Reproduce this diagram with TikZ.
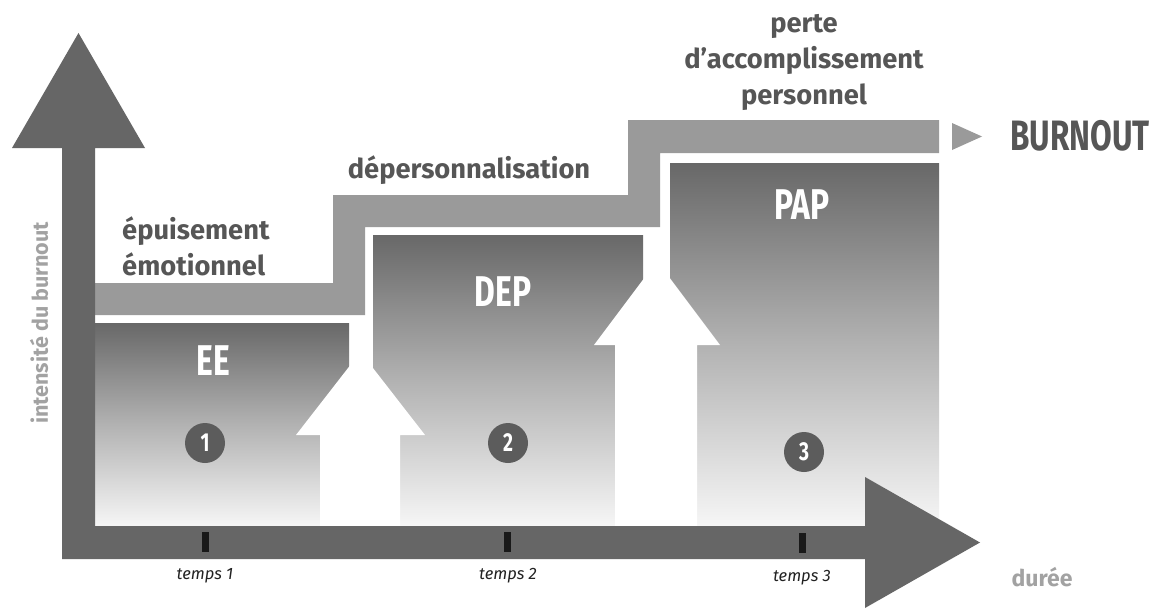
\documentclass[tikz,border=0pt]{standalone}
\usepackage{fontspec}
\setmainfont{Fira Sans}
\newfontfamily\cnd{Fira Sans}
\newfontfamily\ccnd{Fira Sans}[FakeStretch=0.74]
\definecolor{axisgray}{HTML}{666666}
\definecolor{bandgray}{HTML}{9A9A9A}
\definecolor{headgray}{HTML}{565656}
\definecolor{boxtop}{HTML}{686868}
\definecolor{boxmid}{HTML}{B2B2B2}
\definecolor{boxbot}{HTML}{F6F6F6}
\definecolor{discgray}{HTML}{5C5C5C}
\definecolor{lightlabel}{HTML}{A2A2A2}
\definecolor{timetext}{HTML}{222222}
\begin{document}
\begin{tikzpicture}[x=1pt,y=-1pt,
  heading/.style={inner sep=0, text=headgray, font=\cnd\bfseries\fontsize{27.3}{30}\selectfont},
  boxlabel/.style={inner sep=0, text=white, font=\ccnd\bfseries\fontsize{43}{48}\selectfont},
  stagebox/.style={top color=boxtop, bottom color=boxbot, middle color=boxmid},
  numdisc/.style={circle, fill=discgray, minimum size=40pt, inner sep=0, text=white, font=\ccnd\bfseries\fontsize{26}{28}\selectfont},
  tickmark/.style={fill=black!90},
  timelabel/.style={inner sep=0, text=timetext, font=\itshape\fontsize{16.5}{18}\selectfont},
  axislabel/.style={inner sep=0, text=lightlabel, font=\bfseries\fontsize{21.5}{24}\selectfont},
  whitearrow/.style={fill=white}
]
\useasboundingbox[fill=white] (0,0) rectangle (1160,610);

% stair band
\fill[bandgray] (95,283) -- (333,283) -- (333,195) -- (628,195) -- (628,120)
  -- (939,120) -- (939,153) -- (660,153) -- (660,227) -- (365,227)
  -- (365,315) -- (95,315) -- cycle;

% stage boxes
\path[stagebox] (95,323) rectangle (349,526);
\path[stagebox] (373,235) rectangle (643,526);
\path[stagebox] (670,163) rectangle (939,526);

% white arrows
\fill[whitearrow] (320,526) -- (320,435) -- (296,435) -- (360.5,352) -- (425,435)
  -- (400,435) -- (400,526) -- cycle;
\fill[whitearrow] (615,526) -- (615,345) -- (594,345) -- (657,261) -- (720,345)
  -- (697,345) -- (697,526) -- cycle;

% axes
\fill[axisgray] (62,559) -- (62,148) -- (12,148) -- (78.5,33) -- (145,148)
  -- (95,148) -- (95,526) -- (865,526) -- (865,477) -- (980,542.5)
  -- (865,608) -- (865,559) -- cycle;

% ticks
\fill[tickmark] (201.5,532) rectangle (208.5,552);
\fill[tickmark] (503.5,532) rectangle (510.5,552);
\fill[tickmark] (798.5,533) rectangle (805.5,553);

\node[timelabel] (t1) at (205,576) {temps 1};
\node[timelabel] (t2) at (508,576) {temps 2};
\node[timelabel] (t3) at (802,578) {temps 3};

\node[axislabel, font=\bfseries\fontsize{23}{26}\selectfont] (dur) at (1042,577) {durée};
\node[axislabel, rotate=90] (ylab) at (39,323) {intensité du burnout};

% headings
\node[heading, anchor=base west] (ep1) at (122,239) {épuisement};
\node[heading, anchor=base west] (ep2) at (122,275) {émotionnel};
\node[heading, anchor=base] (dep) at (469,178) {dépersonnalisation};
\node[heading, anchor=base] (pa1) at (804,33) {perte};
\node[heading, anchor=base] (pa2) at (804,69) {d’accomplissement};
\node[heading, anchor=base] (pa3) at (804,104) {personnel};

% box labels
\node[boxlabel, anchor=base] (ee) at (213,375) {EE};
\node[boxlabel, anchor=base] (dp) at (503,306) {DEP};
\node[boxlabel, anchor=base] (pap) at (802,219) {PAP};

% discs
\node[numdisc] (n1) at (205,443) {1};
\node[numdisc] (n2) at (508,443) {2};
\node[numdisc] (n3) at (804,452) {3};

% burnout
\fill[bandgray] (952,123) -- (982,136.5) -- (952,150) -- cycle;
\node[inner sep=0, text=headgray, font=\ccnd\bfseries\fontsize{42.5}{46}\selectfont, anchor=base west] (bo) at (1010,150) {BURNOUT};
\end{tikzpicture}
\end{document}
